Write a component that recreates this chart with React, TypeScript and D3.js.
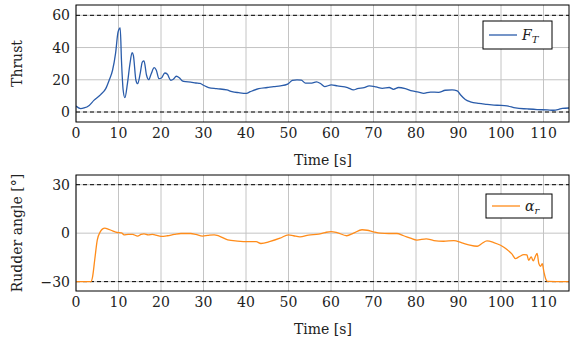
import React from "react";
import * as d3 from "d3";

const thrustTime = [0,1.1,1.9,3.1,4.2,5.8,7.0,7.8,8.6,9.3,9.9,10.4,10.7,11.1,11.5,12.1,12.7,13.2,13.5,14.1,14.5,15.1,15.6,16.0,16.6,17.1,17.7,18.4,18.9,19.5,20.1,20.9,21.5,22.3,22.9,23.6,24.3,25.0,25.8,27.0,28.2,29.2,30,31.2,33.1,35.5,36.7,38.3,40.1,41,43,45,46.5,48.1,49.8,50.9,52,53,54,55.2,56.6,57.6,58.5,60.1,61.5,63.9,65.3,66.2,67.8,69,70.6,72.1,73.7,74.7,75.9,77.5,79.1,80.6,81.8,83.4,85.3,86.9,88.5,89.7,90.4,91.6,92.8,94.8,96.7,99.1,101.4,103.4,106.2,108.5,110.9,112.4,113.6,114.4,116];
const thrustValues = [3.7,2.1,2.5,4.1,7.2,10.8,14.5,19.7,25.9,36.2,49.7,52.2,32,13.5,8.9,17.6,30,36.9,35.2,19.7,17.6,23.8,31,31.7,22.8,20.1,23.8,27.5,25.9,20.7,21.1,24.2,23.4,19.7,20.3,22.2,21.3,19.3,18.8,18.6,18,17.7,16.6,15.2,14.5,13.7,12.6,12,11.6,12.6,14.5,15.2,15.8,16.2,17.3,19.6,20,19.8,17.9,17.9,18.7,17.5,15.8,16.8,16.2,15.2,13.7,14.5,15.2,16.2,15.6,14.7,15.2,14.1,15.2,14.5,13.1,12.4,11.6,12.4,12.2,13.5,13.7,13.1,10.9,7.8,6.3,5.3,4.8,4.2,3.8,2.5,1.9,1.5,1.3,1.1,1.7,2.3,2.5];

const rudderTime = [0,3.5,3.9,4.4,5.0,5.7,6.2,6.8,7.4,8.6,9.7,10.7,11.3,12.3,13.3,14.5,15.3,16.0,17.0,18,18.8,20,21.5,23.1,24.7,27,28.2,29.8,31,32.5,33.7,35.7,38,40.4,42.4,43.5,45.7,48,50,51.2,52.7,54.7,57.1,58.6,60,61.4,63.7,65.3,67.3,68.5,70,71.6,73.6,75.5,77.1,78.7,80.2,82.4,84.2,86.5,88.9,90.8,92.4,94.4,95.5,96.7,98.3,99.9,101.4,102.6,103.4,104.2,105.4,106.1,106.5,107.1,107.6,108.1,108.5,108.9,109.3,109.7,110.1,110.5,110.9,116];
const rudderValues = [-30,-30,-27,-16.6,-4.3,0.8,2.5,3.1,2.7,1.4,0.4,0.2,-1,-0.8,-0.8,-1.8,-0.8,-0.4,-1,-0.8,-1.2,-2,-1.6,-0.8,-0.2,-0.2,-0.8,-1.8,-1.4,-1,-1.8,-4.1,-4.9,-5.3,-5.3,-6.4,-5.1,-3.1,-1,-1.6,-2.3,-1.2,-0.6,0.4,1.0,0.4,-1.6,0,2.1,1.8,0.8,0,-0.2,-0.2,-1.6,-3.1,-4.3,-3.5,-4.6,-5,-4.6,-6,-7.2,-8.1,-6.4,-4.8,-5.8,-7.5,-10.1,-13,-15.7,-14.7,-13.3,-13.5,-16.8,-14.7,-17.2,-14.3,-12.6,-18.8,-20.5,-18.8,-24,-28.2,-29.8,-30];

const xTicks = [0,10,20,30,40,50,60,70,80,90,100,110];
const thrustTicks = [0,20,40,60];
const rudderTicks = [-30,0,30];
const thrustLimits = [0,60];
const rudderLimits = [-30,30];

const FONT = "DejaVu Serif";
const FS = 14;
const LEFT = 76;
const RIGHT = 569;

type PanelProps = {
  top: number; bottom: number; yDomain: [number, number]; yTicks: number[];
  limits: number[]; times: number[]; values: number[]; color: string;
  ylabel: string; legendMain: string; legendSub: string; legendBox: [number, number, number, number];
  id: string;
};

function Panel(p: PanelProps) {
  const x = d3.scaleLinear().domain([0, 116]).range([LEFT, RIGHT]);
  const y = d3.scaleLinear().domain(p.yDomain).range([p.bottom, p.top]);
  const data = p.times.map((t, i) => [t, p.values[i]] as [number, number]);
  const line = d3.line<[number, number]>().x(d => x(d[0])).y(d => y(d[1])).curve(d3.curveMonotoneX);
  const [lx, ly, lw, lh] = p.legendBox;
  const fmt = (v: number) => (v < 0 ? "\u2212" + Math.abs(v) : String(v));
  return (
    <g>
      <defs>
        <clipPath id={p.id}>
          <rect x={LEFT} y={p.top} width={RIGHT - LEFT} height={p.bottom - p.top} />
        </clipPath>
      </defs>
      {xTicks.map(t => (
        <line key={"gx" + t} x1={x(t)} x2={x(t)} y1={p.top} y2={p.bottom} stroke="#c4c4c4" strokeWidth={1} />
      ))}
      {p.yTicks.map(t => (
        <line key={"gy" + t} x1={LEFT} x2={RIGHT} y1={y(t)} y2={y(t)} stroke="#c4c4c4" strokeWidth={1} />
      ))}
      {p.limits.map(t => (
        <line key={"lim" + t} x1={LEFT} x2={RIGHT} y1={y(t)} y2={y(t)} stroke="#000" strokeWidth={1} strokeDasharray="4,3" />
      ))}
      <path d={line(data) || ""} fill="none" stroke={p.color} strokeWidth={1.3} clipPath={`url(#${p.id})`} />
      <rect x={LEFT} y={p.top} width={RIGHT - LEFT} height={p.bottom - p.top} fill="none" stroke="#000" strokeWidth={1} />
      {xTicks.map(t => (
        <text key={"tx" + t} x={x(t)} y={p.bottom + 11} textAnchor="middle" dominantBaseline="central" fontFamily={FONT} fontSize={FS} fill="#222">{t}</text>
      ))}
      {p.yTicks.map(t => (
        <text key={"ty" + t} x={70} y={y(t)} textAnchor="end" dominantBaseline="central" fontFamily={FONT} fontSize={FS} fill="#222">{fmt(t)}</text>
      ))}
      <text x={323} y={p.bottom + 38} textAnchor="middle" dominantBaseline="central" fontFamily={FONT} fontSize={FS} fill="#222">Time [s]</text>
      <text transform={`translate(17,${(p.top + p.bottom) / 2}) rotate(-90)`} textAnchor="middle" dominantBaseline="central" fontFamily={FONT} fontSize={FS} fill="#222">{p.ylabel}</text>
      <rect x={lx} y={ly} width={lw} height={lh} fill="#fff" stroke="#000" strokeWidth={1} />
      <line x1={lx + 6} x2={lx + 34} y1={ly + lh / 2} y2={ly + lh / 2} stroke={p.color} strokeWidth={1.3} />
      <text x={lx + 39} y={ly + lh / 2 + 5} fontFamily={FONT} fontSize={FS} fontStyle="italic" fill="#222">
        {p.legendMain}
        <tspan fontSize={10} dy={3}>{p.legendSub}</tspan>
      </text>
    </g>
  );
}

export default function App() {
  return (
    <svg width={570} height={342} style={{ position: "absolute", left: 0, top: 0, background: "#fff" }}>
      <Panel top={5} bottom={122} yDomain={[-6.2, 66.4]} yTicks={thrustTicks} limits={thrustLimits}
        times={thrustTime} values={thrustValues} color="#2a5caa" ylabel="Thrust"
        legendMain="F" legendSub="T" legendBox={[483, 21, 69, 28]} id="c1" />
      <Panel top={175} bottom={291} yDomain={[-35.8, 36]} yTicks={rudderTicks} limits={rudderLimits}
        times={rudderTime} values={rudderValues} color="#ff8c1a" ylabel="Rudder angle [°]"
        legendMain="α" legendSub="r" legendBox={[486, 194, 66, 24]} id="c2" />
    </svg>
  );
}
